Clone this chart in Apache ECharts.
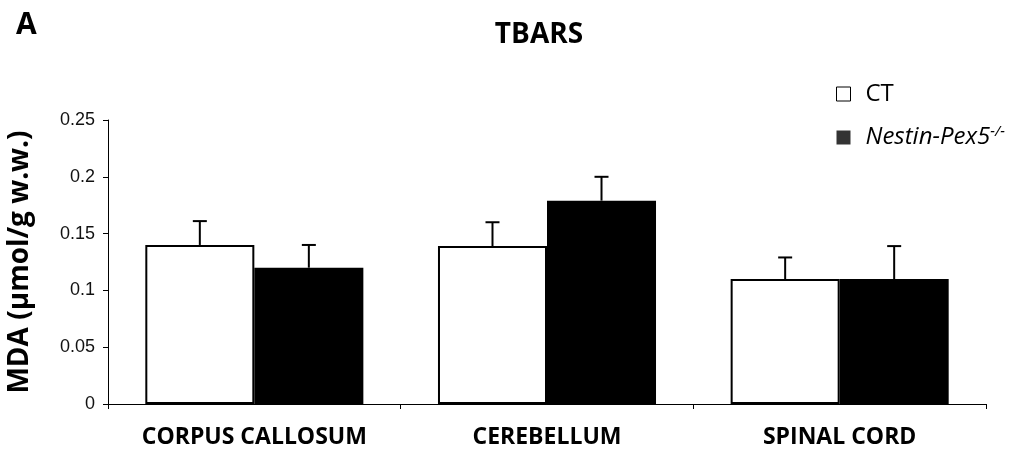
<!DOCTYPE html>
<html>
<head>
<meta charset="utf-8">
<script src="https://cdn.jsdelivr.net/npm/echarts@6/dist/echarts.min.js"></script>
<style>
html, body { margin: 0; padding: 0; background: #fff; }
#chart { width: 1025px; height: 452px; }
</style>
</head>
<body>
<div id="chart"></div>
<script>
// data
const categories = ['CORPUS CALLOSUM', 'CEREBELLUM', 'SPINAL CORD']
const ctValues = [0.14, 0.139, 0.11]
const ctErrors = [0.021, 0.021, 0.019]
const koValues = [0.12, 0.179, 0.11]
const koErrors = [0.02, 0.021, 0.029]
const yTicks = [0, 0.05, 0.1, 0.15, 0.2, 0.25]

const catGap = 0.255

function errorSeries(name, values, errors, side) {
    return {
        name: name + ' err',
        type: 'custom',
        z: 5,
        silent: true,
        data: values.map((v, i) => [i, v, v + errors[i]]),
        renderItem: function (params, api) {
            let band = api.size([1, 0])[0]
            let barW = band * (1 - catGap) / 2
            let base = api.coord([api.value(0), api.value(1)])
            let top = api.coord([api.value(0), api.value(2)])
            let x = base[0] + side * barW / 2
            let style = { stroke: '#000', lineWidth: 2 }
            return {
                type: 'group',
                children: [
                    { type: 'line', shape: { x1: x, y1: base[1], x2: x, y2: top[1] }, style: style },
                    { type: 'line', shape: { x1: x - 7, y1: top[1], x2: x + 7, y2: top[1] }, style: style }
                ]
            }
        }
    }
}

let myChart = echarts.init(document.getElementById('chart'))
let options = {
    animation: false,
    textStyle: { fontFamily: 'Open Sans' },
    title: [
        {
            text: 'TBARS', left: 534, top: 16, textAlign: 'center',
            textStyle: { fontFamily: 'Open Sans', fontWeight: 'bold', fontSize: 28, color: '#000' }
        },
        {
            text: 'A', left: 11, top: 5,
            textStyle: { fontFamily: 'Open Sans', fontWeight: 'bold', fontSize: 30, color: '#000' }
        }
    ],
    legend: {
        orient: 'vertical',
        left: 831,
        top: 77,
        itemWidth: 14,
        itemHeight: 14,
        itemGap: 18,
        icon: 'rect',
        data: [
            { name: 'CT', itemStyle: { color: '#fff', borderColor: '#000', borderWidth: 1 } },
            { name: 'Nestin-Pex5', itemStyle: { color: '#333', borderWidth: 0 } }
        ],
        formatter: function (name) {
            if (name === 'CT') return '{n|CT}'
            return '{i|Nestin-Pex5}{s|-/-}'
        },
        textStyle: {
            padding: [0, 0, 0, 10],
            rich: {
                n: { fontFamily: 'Open Sans', fontSize: 24, color: '#000', lineHeight: 28 },
                i: { fontFamily: 'Open Sans', fontSize: 24, fontStyle: 'italic', color: '#000', lineHeight: 28 },
                s: { fontFamily: 'Open Sans', fontSize: 15, fontStyle: 'italic', color: '#000', padding: [0, 0, 12, 0] }
            }
        }
    },
    grid: { left: 108, right: 39, top: 120, bottom: 48, outerBoundsMode: 'none' },
    xAxis: {
        type: 'category',
        data: categories,
        axisLine: { lineStyle: { color: '#000', width: 1 } },
        axisTick: { show: true, length: 5, lineStyle: { color: '#000' } },
        axisLabel: {
            interval: 0,
            hideOverlap: false,
            margin: 22,
            fontFamily: 'Open Sans',
            fontWeight: 'bold',
            fontSize: 23,
            color: '#000'
        }
    },
    yAxis: {
        type: 'value',
        min: 0,
        max: 0.25,
        interval: 0.05,
        name: 'MDA (µmol/g w.w.)',
        nameLocation: 'middle',
        nameGap: 74,
        nameTextStyle: { fontFamily: 'Open Sans', fontWeight: 'bold', fontSize: 28, color: '#000' },
        axisLine: { show: true, lineStyle: { color: '#000', width: 1 } },
        axisTick: { show: true, length: 5, lineStyle: { color: '#000' } },
        splitLine: { show: false },
        axisLabel: {
            margin: 13,
            fontFamily: 'Liberation Sans',
            fontSize: 18,
            color: '#111',
            formatter: function (v) {
                let t = yTicks.find(k => Math.abs(k - v) < 1e-9)
                return t === undefined ? '' : String(t)
            }
        }
    },
    series: [
        {
            name: 'CT',
            type: 'bar',
            data: ctValues,
            barGap: '0%',
            barCategoryGap: (catGap * 100) + '%',
            itemStyle: { color: '#fff', borderColor: '#000', borderWidth: 2 }
        },
        {
            name: 'Nestin-Pex5',
            type: 'bar',
            data: koValues,
            itemStyle: { color: '#000', borderColor: '#000', borderWidth: 0 }
        },
        errorSeries('CT', ctValues, ctErrors, -1),
        errorSeries('Nestin-Pex5', koValues, koErrors, 1)
    ]
}
myChart.setOption(options)
</script>
</body>
</html>
